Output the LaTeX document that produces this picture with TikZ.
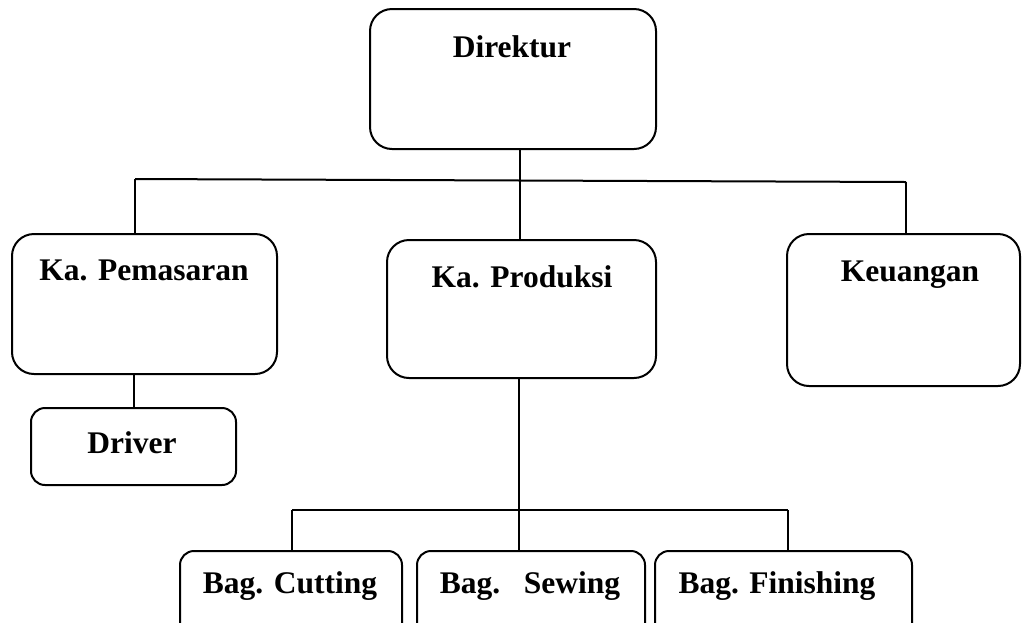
\documentclass[tikz,border=0pt]{standalone}
\usepackage{fontspec}
\setmainfont{Liberation Serif}
\usepackage{tikz}
\usetikzlibrary{calc}

\begin{document}
\begin{tikzpicture}[x=1pt,y=-1pt,line width=2pt,
  box/.style={draw,rounded corners=22pt,inner sep=0pt},
  smallbox/.style={draw,rounded corners=14pt,inner sep=0pt},
  lbl/.style={anchor=base,inner sep=0pt,font=\fontsize{31.5pt}{36pt}\selectfont\bfseries}]
\clip (0,0) rectangle (1024,622);
% boxes
\node[box,minimum width=286pt,minimum height=140pt] (dir) at (513,79) {};
\node[box,minimum width=265pt,minimum height=140pt] (pem) at (144.5,304) {};
\node[box,minimum width=269pt,minimum height=138pt] (prod) at (521.5,309) {};
\node[box,minimum width=233pt,minimum height=152pt] (keu) at (903.5,310) {};
\node[smallbox,minimum width=205pt,minimum height=77pt] (drv) at (133.5,446.5) {};
\node[smallbox,minimum width=222pt,minimum height=100pt] (cut) at (291,601) {};
\node[smallbox,minimum width=228pt,minimum height=100pt] (sew) at (531,601) {};
\node[smallbox,minimum width=257pt,minimum height=100pt] (fin) at (783.5,601) {};
% texts
\node[lbl] (dirT) at (512,57) {Direktur};
\node[lbl] (pemT) at (144,280) {Ka. Pemasaran};
\node[lbl] (prodT) at (522,287) {Ka. Produksi};
\node[lbl] (keuT) at (910,281) {Keuangan};
\node[lbl] (drvT) at (132,453) {Driver};
\node[lbl] (cutT) at (290,593) {Bag. Cutting};
\node[lbl] (sewT) at (530,593) {Bag.\ \ \ Sewing};
\node[lbl] (finT) at (777,593) {Bag. Finishing};
% lines
\coordinate (busL) at (135,179);
\coordinate (busM) at (520,180.5);
\coordinate (busR) at (906,182);
\draw (busL) -- (busR);
\draw (busM |- dir.south) -- (busM |- prod.north);
\draw (busL) -- (busL |- pem.north);
\draw (busR) -- (busR |- keu.north);
\draw (drv.north |- pem.south) -- (drv.north);
\coordinate (botL) at (292,510);
\coordinate (botM) at (519,510);
\coordinate (botR) at (788,510);
\draw (botL) -- (botR);
\draw (botM |- prod.south) -- (botM |- sew.north);
\draw (botL) -- (botL |- cut.north);
\draw (botR) -- (botR |- fin.north);
\end{tikzpicture}
\end{document}
